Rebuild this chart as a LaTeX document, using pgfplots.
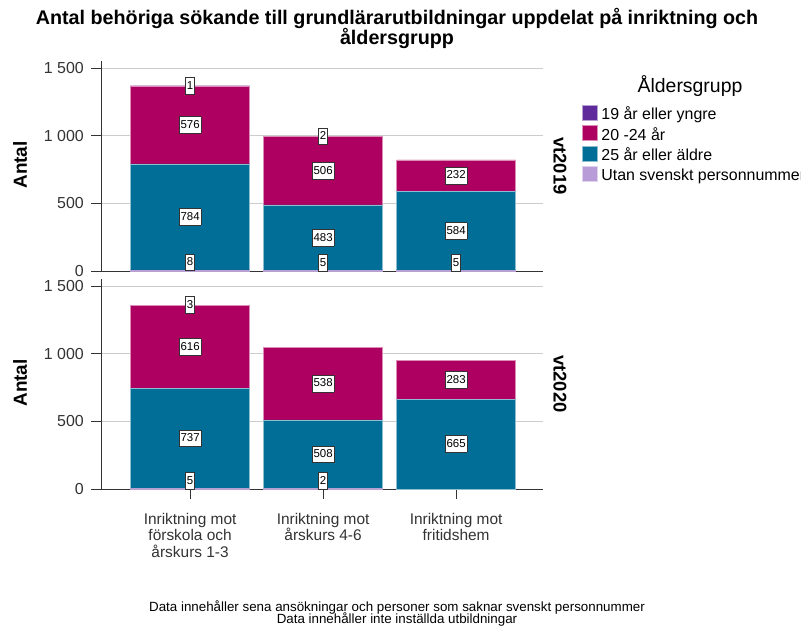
\documentclass[border=0pt]{standalone}
\usepackage{fontspec}
\setmainfont{Liberation Sans}
\usepackage{pgfplots}
\pgfplotsset{compat=1.18}

\definecolor{Young}{HTML}{5F2B9B}
\definecolor{Mid}{HTML}{AE0060}
\definecolor{Old}{HTML}{006E97}
\definecolor{NoId}{HTML}{B89CD8}
\definecolor{Ink}{HTML}{333333}
\definecolor{Grid}{HTML}{CCCCCC}

% value box drawn inside a segment
\newcommand\seglabel[1]{{\setlength\fboxsep{1bp}\setlength\fboxrule{0.6bp}%
  \fcolorbox{Ink}{white}{\rule[-3.6bp]{0pt}{14bp}#1}}}

\pgfplotsset{
  swatch/.style={legend image code/.code={\draw[##1] (0bp,-4.75bp) rectangle (15bp,10.25bp);}},
  % lift the boxes of the thin bottom segment above the axis
  lifted/.style={every node near coord/.append style={yshift=8bp}},
  panel/.style={
    x=133bp, y=0.135333bp,
    xmin=-0.67, xmax=2.65, ymin=0, ymax=1550,
    anchor=south west,
    set layers, mark layer=axis foreground,
    axis x line*=bottom, axis y line*=left,
    axis line style={draw=Ink, line width=0.8bp},
    every tick/.style={draw=Ink, line width=0.8bp},
    tick align=outside,
    major tick length=10bp,
    ytick={0,500,1000,1500},
    ymajorgrids, major grid style={draw=Grid, line width=0.8bp},
    yticklabel style={font=\fontsize{16}{18}\selectfont, text=Ink, inner sep=0pt, anchor=east},
    yticklabel shift=7bp,
    /pgf/number format/1000 sep={\ },
    /pgf/number format/assume math mode=true,
    ybar stacked, bar width=119bp,
    point meta=rawy,
    nodes near coords={\pgfmathfloatifflags{\pgfplotspointmeta}{0}{}{\seglabel{\pgfmathprintnumber{\pgfplotspointmeta}}}},
    nodes near coords align=center,
    every node near coord/.append style={font=\fontsize{11.5}{13}\selectfont, text=black,
      inner sep=0pt, anchor=center},
    clip=false,
  },
}

\begin{document}
\begin{tikzpicture}

\begin{axis}[panel, at={(101bp,360bp)}, xtick=\empty,
    legend style={at={(1.0893,0.7914)}, anchor=north west, draw=none, fill=none,
      inner sep=0pt, outer sep=0pt, row sep=2.2bp,
      font=\fontsize{16}{18}\selectfont,
      nodes={inner sep=0pt, text height=12bp, text depth=3.5bp},
      /tikz/every odd column/.append style={column sep=4bp}},
    legend cell align=left]
  \addlegendimage{swatch, fill=Young, draw=Young!45!white}
  \addlegendimage{swatch, fill=Mid, draw=Mid!45!white}
  \addlegendimage{swatch, fill=Old, draw=Old!45!white}
  \addlegendimage{swatch, fill=NoId, draw=NoId!45!white}
  \addplot[fill=Young, draw=Young!45!white, line width=0.6bp, lifted] coordinates {(0,8) (1,5) (2,5)};
  \addplot[fill=Old, draw=Old!45!white, line width=0.6bp] coordinates {(0,784) (1,483) (2,584)};
  \addplot[fill=Mid, draw=Mid!45!white, line width=0.6bp] coordinates {(0,576) (1,506) (2,232)};
  \addplot[fill=NoId, draw=NoId!45!white, line width=0.6bp] coordinates {(0,1) (1,2) (2,0)};
  \legend{19 år eller yngre, 20 -24 år, 25 år eller äldre, Utan svenskt personnummer}
\end{axis}

\begin{axis}[panel, at={(101bp,142bp)}, xtick={0,1,2},
    xticklabels={{Inriktning mot\\förskola och\\årskurs 1-3},{Inriktning mot\\årskurs 4-6},{Inriktning mot\\fritidshem}},
    xticklabel style={align=center, font=\fontsize{15.5}{16.5}\selectfont, text=Ink, inner sep=0pt, anchor=north},
    xticklabel shift=14bp]
  \addplot[fill=Young, draw=Young!45!white, line width=0.6bp, lifted] coordinates {(0,5) (1,2) (2,0)};
  \addplot[fill=Old, draw=Old!45!white, line width=0.6bp] coordinates {(0,737) (1,508) (2,665)};
  \addplot[fill=Mid, draw=Mid!45!white, line width=0.6bp] coordinates {(0,616) (1,538) (2,283)};
  \addplot[fill=NoId, draw=NoId!45!white, line width=0.6bp] coordinates {(0,3) (1,0) (2,0)};
\end{axis}

\node[anchor=base, font=\bfseries\fontsize{19.8}{20}\selectfont] at (397bp,606bp)
  {Antal behöriga sökande till grundlärarutbildningar uppdelat på inriktning och};
\node[anchor=base, font=\bfseries\fontsize{19.8}{20}\selectfont] at (397bp,586bp) {åldersgrupp};

\node[font=\bfseries\fontsize{19}{20}\selectfont, rotate=90] at (20bp,466bp) {Antal};
\node[font=\bfseries\fontsize{19}{20}\selectfont, rotate=90] at (20bp,248bp) {Antal};
\node[font=\bfseries\fontsize{18.5}{20}\selectfont, rotate=-90] at (560bp,465bp) {vt2019};
\node[font=\bfseries\fontsize{18.5}{20}\selectfont, rotate=-90] at (560bp,247bp) {vt2020};

\node[anchor=base, font=\fontsize{19.5}{20}\selectfont] at (690bp,538bp) {Åldersgrupp};

\node[anchor=base, font=\fontsize{13.4}{13}\selectfont] at (397bp,20bp)
  {Data innehåller sena ansökningar och personer som saknar svenskt personnummer};
\node[anchor=base, font=\fontsize{13.4}{13}\selectfont] at (397bp,8bp)
  {Data innehåller inte inställda utbildningar};

\pgfresetboundingbox
\path[use as bounding box] (0,0) rectangle (801bp,631bp);
\end{tikzpicture}
\end{document}
